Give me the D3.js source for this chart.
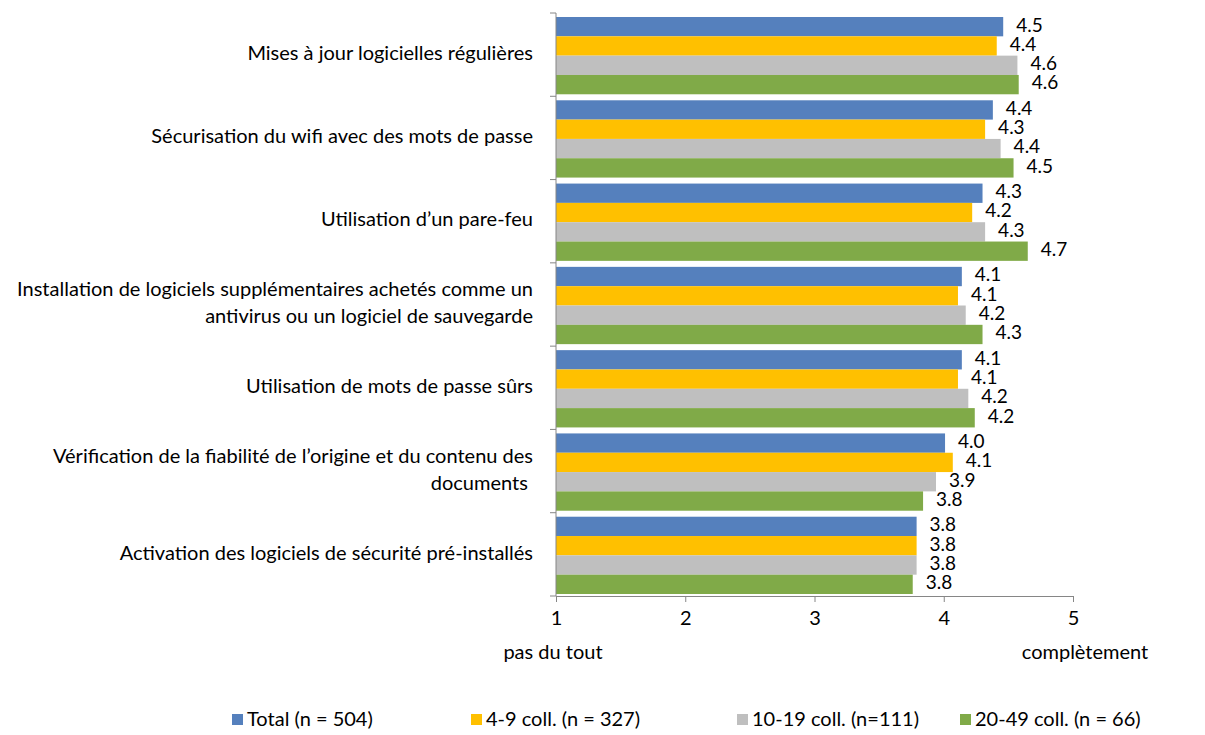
<!DOCTYPE html>
<html lang="fr">
<head>
<meta charset="UTF-8">
<title>Mesures de sécurité</title>
<style>
	body { margin: 0; background: #fff; }
	svg text { font-family: Lato, "Open Sans", sans-serif; fill: #000; }
</style>
</head>
<body>
<div id="chart"></div>
<script src="https://cdn.jsdelivr.net/npm/d3@7"></script>
<script>
	// data
	var categories = [
		["Mises à jour logicielles régulières"],
		["Sécurisation du wifi avec des mots de passe"],
		["Utilisation d’un pare-feu"],
		["Installation de logiciels supplémentaires achetés comme un", "antivirus ou un logiciel de sauvegarde"],
		["Utilisation de mots de passe sûrs"],
		["Vérification de la fiabilité de l’origine et du contenu des", "documents "],
		["Activation des logiciels de sécurité pré-installés"]
	];
	var seriesNames = ["Total (n = 504)", "4-9 coll. (n = 327)", "10-19 coll. (n=111)", "20-49 coll. (n = 66)"];
	var total   = [4.46, 4.38, 4.30, 4.14, 4.14, 4.01, 3.79];
	var coll4   = [4.41, 4.32, 4.22, 4.11, 4.11, 4.07, 3.79];
	var coll10  = [4.57, 4.44, 4.32, 4.17, 4.19, 3.94, 3.79];
	var coll20  = [4.58, 4.54, 4.65, 4.30, 4.24, 3.84, 3.76];
	var series = [total, coll4, coll10, coll20];
	var xTicks = [1, 2, 3, 4, 5];
	var colors = ["#5580bd", "#ffc000", "#bfbfbf", "#80aa48"];

	var W = 1205, H = 735;
	var plotLeft = 556, plotRight = 1073, plotTop = 13, plotBottom = 596;
	var fs = 20;

	var svg = d3.select("#chart").append("svg")
		.attr("width", W).attr("height", H);

	var x = d3.scaleLinear().domain([1, 5]).range([plotLeft, plotRight]);
	var y = d3.scaleBand().domain(d3.range(categories.length)).range([plotTop, plotBottom]);
	var inner = d3.scaleBand().domain(d3.range(series.length))
		.range([4, y.bandwidth() - 2]);

	// bars
	series.forEach(function(vals, s) {
		var g = svg.append("g");
		g.selectAll("rect").data(vals).enter().append("rect")
			.attr("x", x(1))
			.attr("y", (d, i) => y(i) + inner(s))
			.attr("width", d => x(d) - x(1))
			.attr("height", inner.bandwidth())
			.attr("fill", colors[s]);
		g.selectAll("text").data(vals).enter().append("text")
			.attr("x", d => x(d) + 13)
			.attr("y", (d, i) => y(i) + inner(s) + inner.bandwidth() / 2 - 2)
			.attr("dy", "0.36em")
			.attr("font-size", fs - 1)
			.text(d => d3.format(".1f")(d));
	});

	// axes
	var axisColor = "#868686";
	var xAxis = svg.append("g")
		.attr("transform", `translate(0,${plotBottom})`)
		.call(d3.axisBottom(x).tickValues(xTicks).tickSize(6).tickPadding(9).tickFormat(d3.format("d")));
	xAxis.select(".domain").attr("stroke", axisColor);
	xAxis.selectAll(".tick line").attr("stroke", axisColor);
	xAxis.selectAll(".tick text").attr("font-size", fs).attr("font-family", "Lato, sans-serif");

	var yEdges = d3.range(categories.length + 1).map(i => plotTop + i * y.bandwidth());
	svg.append("line")
		.attr("x1", plotLeft).attr("x2", plotLeft)
		.attr("y1", plotTop).attr("y2", plotBottom)
		.attr("stroke", axisColor);
	svg.selectAll(".ytick").data(yEdges).enter().append("line")
		.attr("x1", plotLeft - 6).attr("x2", plotLeft)
		.attr("y1", d => d).attr("y2", d => d)
		.attr("stroke", axisColor);

	// category labels
	categories.forEach(function(lines, i) {
		var cy = y(i) + y.bandwidth() / 2 - 2;
		lines.forEach(function(t, k) {
			svg.append("text")
				.attr("x", 533)
				.attr("y", cy + (k - (lines.length - 1) / 2) * 27)
				.attr("dy", "0.36em")
				.attr("text-anchor", "end")
				.attr("font-size", fs)
				.style("white-space", "pre")
				.text(t);
		});
	});

	// scale end labels
	svg.append("text").attr("x", x(1) - 3).attr("y", 652).attr("dy", "0.36em")
		.attr("text-anchor", "middle").attr("font-size", fs).text("pas du tout");
	svg.append("text").attr("x", x(5) + 12).attr("y", 652).attr("dy", "0.36em")
		.attr("text-anchor", "middle").attr("font-size", fs).text("complètement");

	// legend
	var legendX = [232, 471, 737, 960];
	var legend = svg.selectAll(".legend").data(seriesNames).enter().append("g")
		.attr("transform", (d, i) => `translate(${legendX[i]},719)`);
	legend.append("rect").attr("x", 0).attr("y", -5).attr("width", 11).attr("height", 11)
		.attr("fill", (d, i) => colors[i]);
	legend.append("text").attr("x", 15).attr("y", 0).attr("dy", "0.36em")
		.attr("font-size", fs).text(d => d);
</script>
</body>
</html>
